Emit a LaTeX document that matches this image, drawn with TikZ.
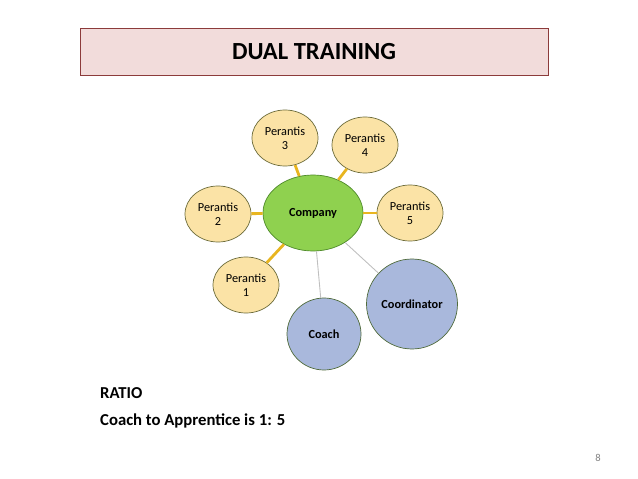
\documentclass[tikz,border=0pt]{standalone}
\usepackage{fontspec}
\setmainfont{Carlito}
\usetikzlibrary{shapes.geometric}
\definecolor{titlefill}{HTML}{F2DCDB}
\definecolor{titledraw}{HTML}{8C3B3B}
\definecolor{perfill}{HTML}{FBE3A6}
\definecolor{perdraw}{HTML}{6B6B3A}
\definecolor{compfill}{HTML}{8FD14F}
\definecolor{compdraw}{HTML}{4E8A2A}
\definecolor{staffill}{HTML}{A9B8DC}
\definecolor{stafdraw}{HTML}{4F6A3A}
\definecolor{perline}{HTML}{E8B520}
\tikzset{
	perantis/.style={ellipse, draw=perdraw, fill=perfill, minimum width=66\pgflinewidth, font=\fontsize{7}{8}\selectfont, align=center, inner sep=0pt},
	staff/.style={ellipse, draw=stafdraw, fill=staffill, font=\fontsize{7}{8}\selectfont\bfseries, inner sep=0pt},
	perlink/.style={draw=perline, line width=1.6pt},
	stafflink/.style={draw=gray!50, line width=0.5pt}
}
\begin{document}
\begin{tikzpicture}[x=0.02cm,y=-0.02cm]
	\useasboundingbox (0,0) rectangle (638,479);
	\node[rectangle, draw=titledraw, fill=titlefill, minimum width=468*0.02cm, minimum height=47*0.02cm] (title) at (314,52) {};
	\node[font=\fontsize{14}{16}\selectfont\bfseries] (titletext) at (title.center) {DUAL TRAINING};
	
	\node[ellipse, draw=compdraw, fill=compfill, minimum width=100*0.02cm, minimum height=76*0.02cm, font=\fontsize{7}{8}\selectfont\bfseries] (comp) at (313,213) {Company};
	
	\node[perantis, minimum width=66*0.02cm, minimum height=56*0.02cm] (p1) at (246,285) {Perantis\\1};
	\node[perantis, minimum width=66*0.02cm, minimum height=56*0.02cm] (p2) at (218,214) {Perantis\\2};
	\node[perantis, minimum width=66*0.02cm, minimum height=56*0.02cm] (p3) at (285,138) {Perantis\\3};
	\node[perantis, minimum width=66*0.02cm, minimum height=56*0.02cm] (p4) at (365,145) {Perantis\\4};
	\node[perantis, minimum width=66*0.02cm, minimum height=56*0.02cm] (p5) at (410,213) {Perantis\\5};
	
	\node[staff, minimum width=74*0.02cm, minimum height=72*0.02cm] (coach) at (324,334) {Coach};
	\node[staff, minimum width=91*0.02cm, minimum height=90*0.02cm] (coord) at (412,304) {Coordinator};
	
	\draw[perlink] (comp) -- (p1);
	\draw[perlink] (comp) -- (p2);
	\draw[perlink] (comp) -- (p3);
	\draw[perlink] (comp) -- (p4);
	\draw[perlink] (comp) -- (p5);
	\draw[stafflink] (comp) -- (coach);
	\draw[stafflink] (comp) -- (coord);
	
	\node[anchor=west, font=\fontsize{9.5}{11}\selectfont\bfseries] (ratio) at (94,393) {RATIO};
	\node[anchor=west, font=\fontsize{9.5}{11}\selectfont\bfseries] (ratiotext) at (94,421) {Coach to Apprentice is 1: 5};
	\node[font=\fontsize{6}{7}\selectfont, text=gray] (page) at (598,458) {8};
\end{tikzpicture}
\end{document}
